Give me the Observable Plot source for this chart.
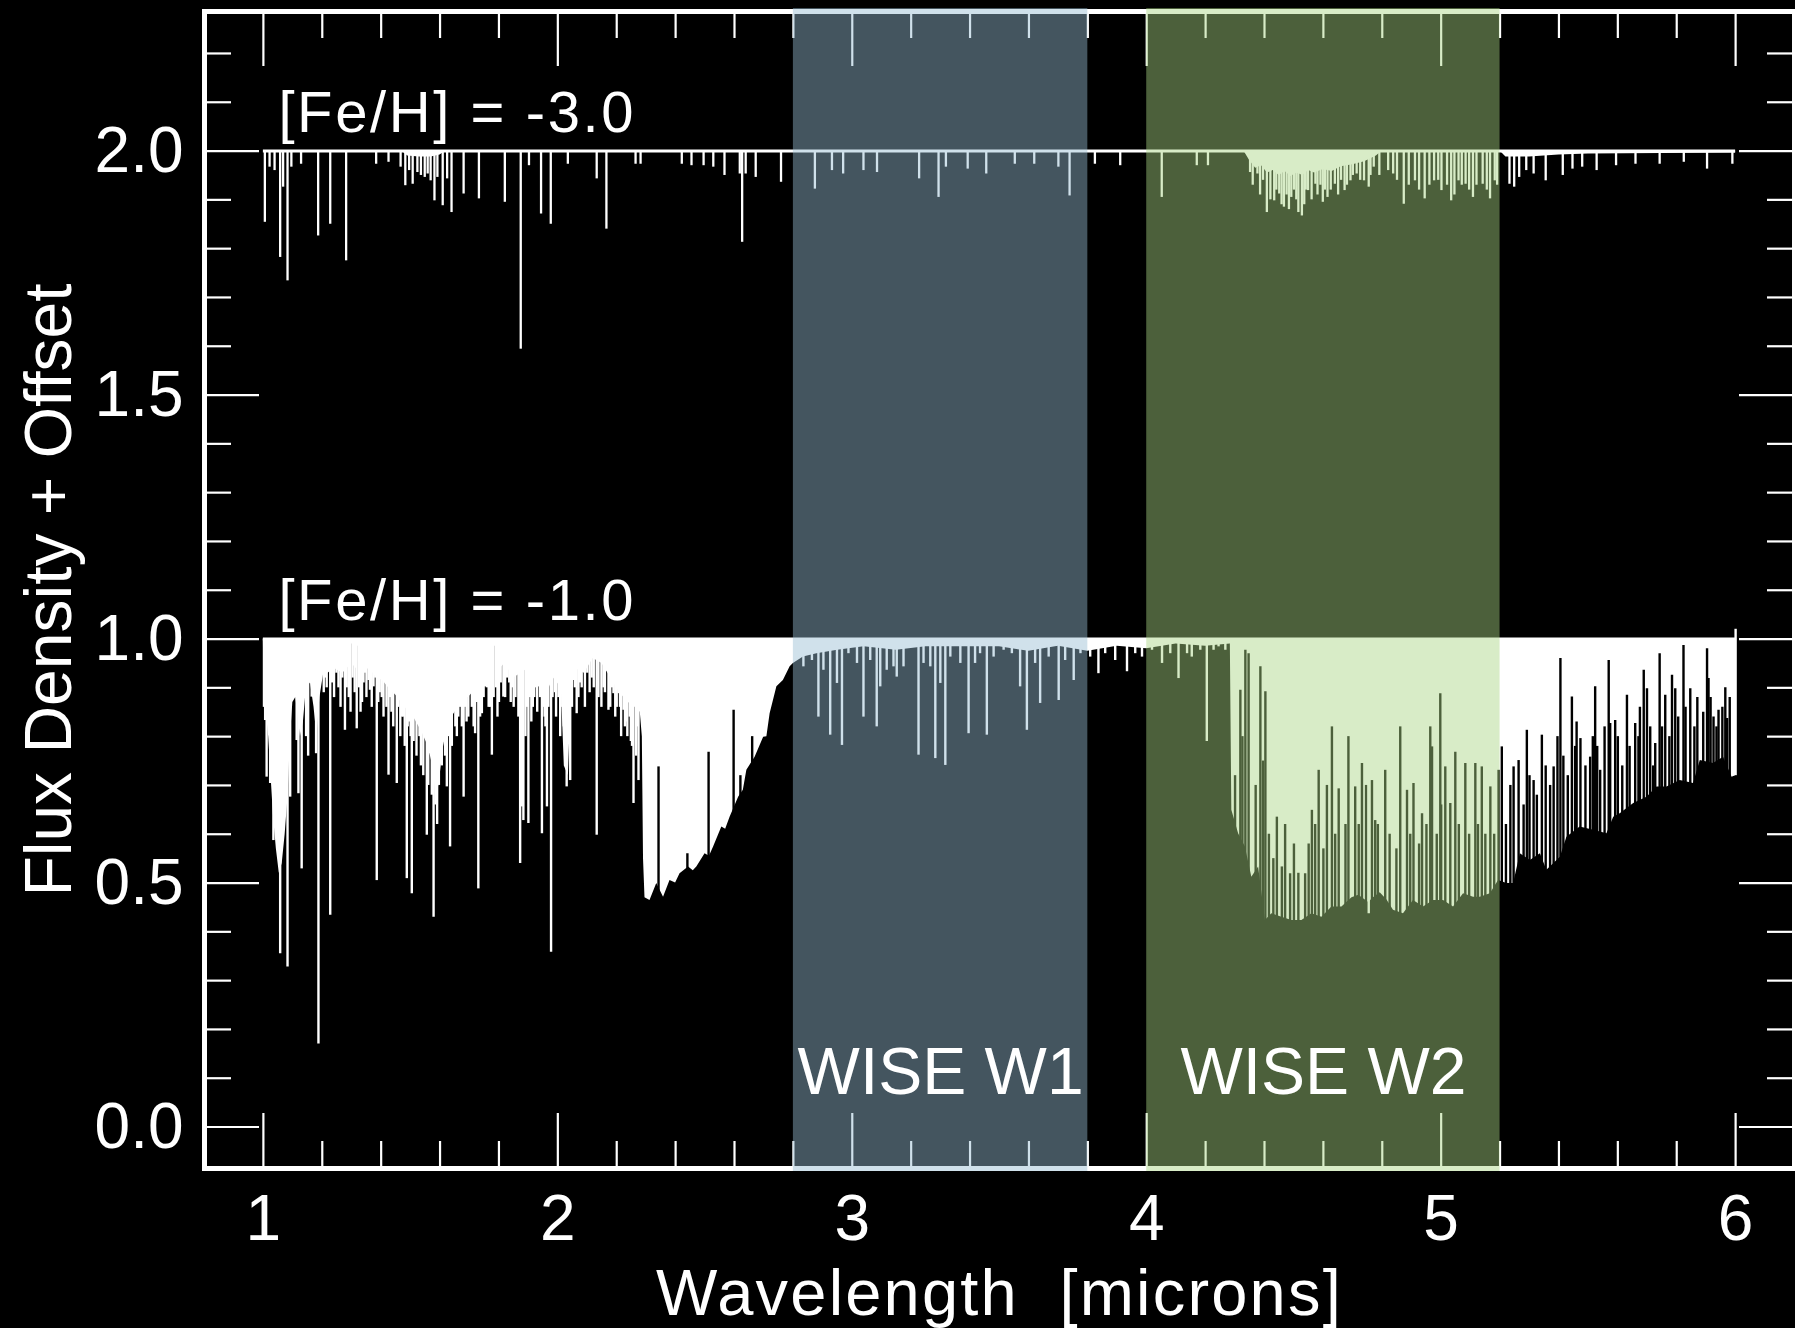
<!DOCTYPE html>
<html>
<head>
<meta charset="utf-8">
<script src="https://cdn.jsdelivr.net/npm/d3@7"></script>
<script src="https://cdn.jsdelivr.net/npm/@observablehq/plot@0.6"></script>
<style>
  html, body { margin: 0; padding: 0; background: #000; }
  #chart svg { display: block; }
</style>
</head>
<body>
<div id="chart"></div>
<script>
// ---------------- data ----------------
const xMajorTicks = [1, 2, 3, 4, 5, 6];
const xMinorTicks = [1.2, 1.4, 1.6, 1.8, 2.2, 2.4, 2.6, 2.8, 3.2, 3.4, 3.6, 3.8, 4.2, 4.4, 4.6, 4.8, 5.2, 5.4, 5.6, 5.8];
const yMajorTicks = [0.0, 0.5, 1.0, 1.5, 2.0];
const yMinorTicks = [0.1, 0.2, 0.3, 0.4, 0.6, 0.7, 0.8, 0.9, 1.1, 1.2, 1.3, 1.4, 1.6, 1.7, 1.8, 1.9, 2.1, 2.2];

const spectrumRange = [1.0, 6.0];
const spectrumEnd = [{w: 6.0, lo: 0.72, hi: 1.02}];
const metallicity = [
  {label: "[Fe/H] = -3.0", level: 2.0},
  {label: "[Fe/H] = -1.0", level: 1.0}
];
const bandNames = ["WISE W1", "WISE W2"];
const bandLo = [2.8, 4.0];
const bandHi = [3.8, 5.2];

// [Fe/H] = -1.0 : lower edge of the solid (blended) absorption, [wavelength, flux]
const envMinus1 = [
  [1.000,1.00],[1.002,0.90],[1.010,0.85],[1.018,0.80],[1.026,0.72],[1.034,0.64],[1.044,0.57],[1.054,0.52],
  [1.064,0.54],[1.074,0.60],[1.084,0.68],[1.092,0.80],[1.100,0.87],[1.110,0.88],[1.118,0.84],[1.126,0.80],
  [1.136,0.83],[1.146,0.90],[1.160,0.91],[1.172,0.86],[1.182,0.80],[1.192,0.88],[1.205,0.93],[1.220,0.93],
  [1.240,0.94],[1.270,0.93],[1.300,0.95],[1.330,0.93],[1.360,0.94],[1.385,0.92],[1.405,0.915],[1.425,0.90],
  [1.450,0.885],[1.481,0.86],[1.510,0.84],[1.538,0.81],[1.560,0.78],[1.575,0.74],[1.589,0.67],[1.600,0.72],
  [1.612,0.78],[1.628,0.83],[1.651,0.85],[1.674,0.88],[1.696,0.88],[1.719,0.895],[1.745,0.915],[1.764,0.94],
  [1.790,0.93],[1.820,0.95],[1.850,0.92],[1.875,0.93],[1.900,0.94],[1.930,0.91],[1.957,0.88],[1.985,0.92],
  [2.012,0.90],[2.022,0.74],[2.036,0.72],[2.046,0.90],[2.060,0.94],[2.090,0.93],[2.120,0.96],[2.150,0.95],
  [2.180,0.92],[2.210,0.89],[2.240,0.87],[2.262,0.86],[2.280,0.85],[2.287,0.80],[2.291,0.55],[2.296,0.47],
  [2.313,0.464],[2.336,0.499],[2.359,0.471],[2.381,0.505],[2.400,0.500],[2.415,0.519],[2.444,0.533],[2.460,0.525],
  [2.472,0.533],[2.500,0.560],[2.515,0.555],[2.529,0.574],[2.557,0.615],[2.570,0.610],[2.585,0.635],[2.614,0.676],
  [2.630,0.690],[2.642,0.731],[2.670,0.758],[2.699,0.799],[2.710,0.800],[2.721,0.847],[2.744,0.902],[2.766,0.915],
  [2.789,0.943],[2.800,0.950],[2.834,0.963],[2.880,0.970],[2.950,0.977],[3.040,0.984],
  [3.150,0.977],[3.250,0.984],[3.380,0.984],[3.500,0.984],[3.600,0.975],[3.700,0.985],[3.800,0.975],[3.900,0.985],
  [4.000,0.980],[4.100,0.990],[4.200,0.985],[4.284,0.990],[4.289,0.649],[4.312,0.601],[4.335,0.574],[4.357,0.512],
  [4.380,0.533],[4.403,0.423],[4.425,0.437],[4.459,0.430],[4.493,0.423],[4.527,0.423],[4.561,0.437],[4.595,0.430],
  [4.629,0.451],[4.663,0.451],[4.697,0.470],[4.720,0.475],[4.754,0.460],[4.770,0.470],[4.793,0.480],[4.816,0.465],
  [4.838,0.444],[4.872,0.437],[4.906,0.464],[4.940,0.451],[4.974,0.464],[5.008,0.464],[5.042,0.451],[5.076,0.478],
  [5.110,0.471],[5.133,0.471],[5.167,0.478],[5.195,0.505],[5.223,0.499],[5.246,0.499],[5.269,0.560],[5.303,0.546],
  [5.337,0.560],[5.359,0.526],[5.405,0.553],[5.427,0.594],[5.472,0.615],[5.518,0.608],[5.563,0.601],[5.586,0.635],
  [5.608,0.642],[5.654,0.663],[5.699,0.676],[5.733,0.697],[5.767,0.697],[5.812,0.710],[5.857,0.704],[5.880,0.751],
  [5.925,0.745],[5.959,0.758],[5.988,0.717],[6.000,0.720]
];

// [Fe/H] = -1.0 : individual absorption lines, [wavelength, minimum flux]
const linesMinus1 = [
  [1.002,0.86],[1.006,0.833],[1.011,0.717],[1.023,0.704],[1.034,0.587],[1.057,0.355],[1.068,0.697],[1.082,0.328],
  [1.091,0.676],[1.113,0.792],[1.119,0.683],[1.130,0.529],[1.145,0.80],[1.152,0.76],[1.164,0.881],[1.179,0.765],
  [1.187,0.170],[1.205,0.89],[1.210,0.92],[1.215,0.90],[1.227,0.434],[1.233,0.91],[1.240,0.88],[1.248,0.93],
  [1.255,0.90],[1.262,0.86],[1.268,0.92],[1.277,0.813],[1.283,0.90],[1.290,0.88],[1.296,0.85],[1.303,0.92],
  [1.310,0.89],[1.317,0.816],[1.325,0.90],[1.330,0.85],[1.335,0.87],[1.340,0.91],[1.345,0.93],[1.350,0.88],
  [1.357,0.915],[1.362,0.895],[1.368,0.86],[1.374,0.902],[1.380,0.92],[1.385,0.505],[1.390,0.87],[1.395,0.89],
  [1.402,0.88],[1.408,0.84],[1.413,0.929],[1.418,0.86],[1.425,0.721],[1.430,0.88],[1.435,0.85],[1.441,0.82],
  [1.447,0.922],[1.453,0.704],[1.458,0.86],[1.465,0.80],[1.470,0.84],[1.476,0.840],[1.480,0.78],[1.487,0.509],
  [1.490,0.82],[1.495,0.83],[1.500,0.80],[1.504,0.478],[1.510,0.79],[1.515,0.861],[1.520,0.76],[1.527,0.847],
  [1.530,0.80],[1.535,0.74],[1.543,0.72],[1.549,0.847],[1.555,0.598],[1.560,0.70],[1.566,0.765],[1.572,0.68],
  [1.578,0.430],[1.584,0.66],[1.590,0.62],[1.596,0.70],[1.600,0.786],[1.606,0.74],[1.612,0.854],[1.617,0.76],
  [1.623,0.697],[1.629,0.80],[1.634,0.574],[1.640,0.78],[1.646,0.868],[1.652,0.82],[1.657,0.80],[1.662,0.84],
  [1.668,0.86],[1.674,0.82],[1.680,0.676],[1.685,0.86],[1.690,0.83],[1.696,0.84],[1.702,0.895],[1.708,0.86],
  [1.714,0.82],[1.719,0.806],[1.725,0.87],[1.730,0.488],[1.736,0.84],[1.742,0.847],[1.748,0.88],[1.753,0.902],
  [1.759,0.90],[1.765,0.86],[1.770,0.86],[1.776,0.762],[1.782,0.88],[1.790,0.90],[1.795,0.84],[1.800,0.87],
  [1.806,0.91],[1.815,0.881],[1.821,0.88],[1.828,0.92],[1.835,0.91],[1.840,0.87],[1.845,0.90],[1.850,0.86],
  [1.856,0.88],[1.861,0.943],[1.866,0.84],[1.872,0.540],[1.878,0.656],[1.883,0.628],[1.890,0.80],[1.895,0.86],
  [1.900,0.622],[1.906,0.88],[1.910,0.83],[1.915,0.86],[1.920,0.88],[1.925,0.90],[1.930,0.85],[1.934,0.902],
  [1.940,0.88],[1.946,0.601],[1.950,0.86],[1.955,0.84],[1.958,0.82],[1.963,0.656],[1.968,0.86],[1.977,0.358],
  [1.982,0.88],[1.990,0.89],[1.994,0.84],[1.997,0.936],[2.002,0.88],[2.008,0.80],[2.015,0.86],[2.020,0.82],
  [2.030,0.697],[2.042,0.710],[2.048,0.86],[2.053,0.915],[2.058,0.90],[2.064,0.847],[2.070,0.88],[2.075,0.91],
  [2.081,0.90],[2.092,0.86],[2.100,0.93],[2.108,0.89],[2.115,0.92],[2.122,0.90],[2.132,0.598],[2.138,0.88],
  [2.148,0.86],[2.155,0.90],[2.160,0.89],[2.165,0.935],[2.172,0.854],[2.178,0.86],[2.184,0.90],[2.189,0.888],
  [2.195,0.84],[2.200,0.86],[2.206,0.888],[2.211,0.86],[2.215,0.80],[2.223,0.854],[2.228,0.82],[2.232,0.83],
  [2.236,0.80],[2.240,0.874],[2.244,0.84],[2.248,0.79],[2.252,0.78],[2.257,0.663],[2.266,0.76],[2.270,0.82],
  [2.274,0.710],
  [2.834,0.943],[2.863,0.956],[2.885,0.840],[2.902,0.936],[2.925,0.803],[2.948,0.909],[2.965,0.782],[2.987,0.970],
  [3.016,0.950],[3.038,0.840],[3.061,0.956],[3.083,0.820],[3.095,0.902],[3.117,0.936],[3.140,0.943],[3.151,0.922],
  [3.174,0.943],[3.225,0.762],[3.242,0.950],[3.265,0.943],[3.282,0.755],[3.299,0.909],[3.316,0.741],[3.333,0.963],
  [3.367,0.950],[3.395,0.806],[3.417,0.950],[3.434,0.970],[3.457,0.803],[3.480,0.963],[3.514,0.977],
  [3.542,0.970],[3.570,0.902],[3.593,0.813],[3.621,0.950],[3.638,0.868],[3.667,0.963],[3.701,0.874],[3.723,0.956],
  [3.752,0.915],[3.775,0.970],[3.808,0.963],[3.836,0.929],[3.859,0.970],[3.893,0.956],[3.933,0.933],[3.961,0.970],
  [3.984,0.963],[4.018,0.977],[4.052,0.950],[4.080,0.970],[4.108,0.919],[4.137,0.970],[4.153,0.963],[4.182,0.977],
  [4.204,0.790],[4.227,0.977],[4.244,0.984],[4.267,0.977],[4.754,0.437]
];

// [Fe/H] = -1.0 : narrow windows where the flux stays high, [wavelength, lowest level reached]
const windowsMinus1 = [
  [1.300,0.99],[1.322,0.985],[1.787,0.985],[1.844,0.985],
  [2.342,0.738],[2.440,0.560],[2.512,0.768],[2.597,0.854],[2.620,0.720],[2.660,0.800],
  [4.300,0.720],[4.318,0.895],[4.325,0.800],[4.335,0.977],[4.346,0.970],[4.370,0.700],[4.386,0.943],[4.395,0.750],
  [4.403,0.892],[4.415,0.600],[4.430,0.550],[4.442,0.635],[4.459,0.533],[4.470,0.620],[4.487,0.519],[4.500,0.580],
  [4.515,0.520],[4.538,0.519],[4.550,0.580],[4.561,0.649],[4.572,0.620],[4.584,0.731],[4.600,0.570],[4.612,0.700],
  [4.629,0.820],[4.640,0.600],[4.652,0.693],[4.675,0.620],[4.685,0.800],[4.708,0.697],[4.720,0.620],[4.731,0.745],
  [4.745,0.700],[4.765,0.710],[4.776,0.628],[4.785,0.620],
  [4.810,0.731],[4.825,0.600],[4.848,0.570],[4.861,0.820],[4.884,0.690],[4.895,0.600],[4.906,0.704],[4.925,0.580],
  [4.935,0.642],[4.950,0.620],[4.963,0.820],[4.969,0.779],[4.985,0.600],[4.997,0.888],[5.000,0.660],[5.014,0.738],
  [5.031,0.663],[5.048,0.768],[5.060,0.620],[5.082,0.745],[5.095,0.600],[5.116,0.745],[5.125,0.620],[5.138,0.738],
  [5.150,0.600],[5.167,0.697],[5.180,0.600],[5.195,0.731],
  [5.206,0.779],[5.220,0.620],[5.235,0.700],[5.246,0.738],[5.263,0.751],[5.280,0.660],[5.291,0.813],[5.300,0.720],
  [5.314,0.710],[5.325,0.680],[5.342,0.803],[5.355,0.740],[5.370,0.700],[5.382,0.738],[5.395,0.800],[5.405,0.960],
  [5.415,0.760],[5.430,0.720],[5.444,0.881],[5.455,0.780],[5.460,0.830],[5.473,0.796],[5.490,0.740],[5.506,0.758],
  [5.515,0.800],[5.523,0.902],[5.530,0.780],[5.540,0.731],[5.555,0.820],[5.569,0.956],[5.574,0.827],[5.591,0.833],
  [5.600,0.800],[5.615,0.740],[5.631,0.885],[5.640,0.780],[5.659,0.827],[5.670,0.800],[5.675,0.860],[5.688,0.936],
  [5.699,0.898],[5.710,0.820],[5.720,0.740],[5.727,0.786],[5.742,0.970],[5.750,0.820],[5.761,0.885],[5.775,0.800],
  [5.784,0.926],[5.795,0.898],[5.805,0.840],[5.823,0.987],[5.830,0.860],[5.846,0.898],[5.860,0.820],[5.870,0.880],
  [5.890,0.850],[5.903,0.980],[5.908,0.919],[5.915,0.880],[5.925,0.840],[5.935,0.820],[5.942,0.854],[5.955,0.860],
  [5.965,0.900],[5.971,0.837],[5.980,0.880]
];

// [Fe/H] = -3.0 : lower edge of blended absorption, [wavelength, flux]
const envMinus3 = [
  [1.00,2.0],[1.47,2.0],[1.49,1.99],[1.53,1.988],[1.57,1.988],[1.60,1.992],[1.62,2.0],[4.33,2.0],
  [4.35,1.98],[4.37,1.965],[4.39,1.97],[4.41,1.955],[4.43,1.96],[4.45,1.95],[4.47,1.958],[4.49,1.948],
  [4.51,1.955],[4.53,1.95],[4.55,1.96],[4.57,1.955],[4.60,1.962],[4.63,1.958],[4.66,1.968],[4.70,1.972],
  [4.74,1.978],[4.78,1.99],[4.80,2.0],[5.20,2.0],[5.22,1.988],[5.30,1.988],[5.40,1.992],[5.50,1.994],[6.00,1.996]
];

// [Fe/H] = -3.0 : individual absorption lines, [wavelength, minimum flux]
const linesMinus3 = [
  [1.005,1.854],[1.021,1.967],[1.038,1.960],[1.057,1.782],[1.067,1.926],[1.082,1.734],[1.095,1.967],[1.128,1.973],
  [1.186,1.826],[1.227,1.850],[1.281,1.775],[1.383,1.973],[1.425,1.977],[1.466,1.967],[1.482,1.929],[1.495,1.960],
  [1.507,1.932],[1.523,1.956],[1.535,1.950],[1.548,1.946],[1.558,1.953],[1.568,1.939],[1.581,1.898],[1.591,1.946],
  [1.609,1.888],[1.624,1.943],[1.639,1.874],[1.680,1.912],[1.732,1.902],[1.820,1.895],[1.874,1.594],[1.902,1.970],
  [1.943,1.871],[1.976,1.850],[2.034,1.973],[2.132,1.943],[2.165,1.840],[2.264,1.973],[2.281,1.973],[2.421,1.973],
  [2.454,1.970],[2.495,1.970],[2.528,1.967],[2.566,1.950],[2.618,1.953],[2.626,1.813],[2.638,1.953],[2.672,1.946],
  [2.758,1.936],[2.873,1.922],[2.931,1.960],[2.969,1.953],[3.038,1.960],[3.084,1.956],[3.227,1.943],[3.293,1.905],
  [3.318,1.967],[3.392,1.963],[3.455,1.953],[3.552,1.973],[3.618,1.973],[3.700,1.967],[3.738,1.908],[3.824,1.973],
  [3.910,1.970],[4.051,1.905],[4.170,1.970],[4.208,1.970],[4.351,1.956],[4.360,1.930],[4.376,1.953],[4.385,1.910],
  [4.395,1.940],[4.408,1.874],[4.420,1.900],[4.433,1.898],[4.440,1.920],[4.450,1.912],[4.458,1.890],[4.466,1.885],
  [4.475,1.910],[4.483,1.880],[4.491,1.905],[4.500,1.920],[4.508,1.900],[4.515,1.874],[4.527,1.867],[4.535,1.890],
  [4.540,1.920],[4.548,1.919],[4.560,1.900],[4.573,1.932],[4.580,1.910],[4.590,1.930],[4.598,1.895],[4.605,1.920],
  [4.614,1.905],[4.625,1.920],[4.639,1.932],[4.650,1.910],[4.660,1.940],[4.672,1.919],[4.680,1.930],[4.692,1.939],
  [4.700,1.950],[4.713,1.953],[4.725,1.940],[4.738,1.939],[4.754,1.926],[4.760,1.950],[4.771,1.967],[4.790,1.950],
  [4.820,1.960],[4.837,1.953],[4.850,1.940],[4.873,1.891],[4.890,1.930],[4.911,1.939],[4.925,1.920],[4.944,1.902],
  [4.960,1.930],[4.976,1.939],[4.990,1.940],[5.001,1.919],[5.020,1.930],[5.034,1.898],[5.045,1.910],[5.059,1.939],
  [5.070,1.930],[5.083,1.932],[5.095,1.920],[5.108,1.905],[5.120,1.930],[5.141,1.932],[5.155,1.920],[5.166,1.902],
  [5.182,1.939],[5.190,1.930],[5.232,1.932],[5.248,1.926],[5.265,1.946],[5.289,1.960],[5.314,1.953],[5.355,1.939],
  [5.413,1.950],[5.446,1.963],[5.479,1.967],[5.528,1.960],[5.594,1.970],[5.660,1.973],[5.742,1.973],[5.824,1.977],
  [5.903,1.963],[5.989,1.973]
];

// ---------------- layout / style ----------------
const W = 1795, H = 1328;
const M = {left: 204, right: 1, top: 11, bottom: 160};
const xDomain = [0.8, 6.2];
const yDomain = [-0.085, 2.286];
const pxPerX = (W - M.left - M.right) / (xDomain[1] - xDomain[0]);
const pxPerY = (H - M.top - M.bottom) / (yDomain[1] - yDomain[0]);
const MAJ = 55, MIN = 27;
const FONT = "'Liberation Sans', Arial, Helvetica, sans-serif";
const W1FILL = "rgb(150,188,210)", W2FILL = "rgb(168,212,130)", BANDOP = 0.45;
const windowFloor = 0.3;
const X_TITLE = "Wavelength\u00a0\u00a0[microns]";

const pts = (pairs) => pairs.map(([w, f]) => ({w, f}));
const bands = bandNames.map((name, i) => ({name, lo: bandLo[i], hi: bandHi[i]}));
const tickStyle = {stroke: "white", strokeWidth: 2.2};

const chart = Plot.plot({
  width: W, height: H,
  marginLeft: M.left, marginRight: M.right, marginTop: M.top, marginBottom: M.bottom,
  x: {domain: xDomain},
  y: {domain: yDomain},
  style: {background: "black", color: "white", fontFamily: FONT, fontSize: "64px"},
  marks: [
    // spectrum [Fe/H] = -1.0
    Plot.areaY(pts(envMinus1), {x: "w", y1: 1.0, y2: "f", fill: "white"}),
    Plot.ruleX(pts(windowsMinus1), {x: "w", y1: "f", y2: windowFloor, stroke: "black", strokeWidth: 2.4}),
    Plot.ruleX(pts(linesMinus1), {x: "w", y1: 1.0, y2: "f", stroke: "white", strokeWidth: 2.4}),
    Plot.ruleX(spectrumEnd, {x: "w", y1: "lo", y2: "hi", stroke: "white", strokeWidth: 2.4}),
    Plot.ruleY([1.0], {x1: spectrumRange[0], x2: spectrumRange[1], stroke: "white", strokeWidth: 3}),
    // spectrum [Fe/H] = -3.0
    Plot.areaY(pts(envMinus3), {x: "w", y1: 2.0, y2: "f", fill: "white"}),
    Plot.ruleX(pts(linesMinus3), {x: "w", y1: 2.0, y2: "f", stroke: "white", strokeWidth: 2.3}),
    Plot.ruleY([2.0], {x1: spectrumRange[0], x2: spectrumRange[1], stroke: "white", strokeWidth: 3}),
    // inward ticks
    Plot.ruleX(xMajorTicks, {y1: yDomain[0], y2: yDomain[0] + MAJ / pxPerY, ...tickStyle}),
    Plot.ruleX(xMajorTicks, {y1: yDomain[1], y2: yDomain[1] - MAJ / pxPerY, ...tickStyle}),
    Plot.ruleX(xMinorTicks, {y1: yDomain[0], y2: yDomain[0] + MIN / pxPerY, ...tickStyle}),
    Plot.ruleX(xMinorTicks, {y1: yDomain[1], y2: yDomain[1] - MIN / pxPerY, ...tickStyle}),
    Plot.ruleY(yMajorTicks, {x1: xDomain[0], x2: xDomain[0] + MAJ / pxPerX, ...tickStyle}),
    Plot.ruleY(yMajorTicks, {x1: xDomain[1], x2: xDomain[1] - MAJ / pxPerX, ...tickStyle}),
    Plot.ruleY(yMinorTicks, {x1: xDomain[0], x2: xDomain[0] + MIN / pxPerX, ...tickStyle}),
    Plot.ruleY(yMinorTicks, {x1: xDomain[1], x2: xDomain[1] - MIN / pxPerX, ...tickStyle}),
    Plot.frame({stroke: "white", strokeWidth: 5}),
    // WISE bands (translucent overlay)
    Plot.rect([bands[0]], {x1: "lo", x2: "hi", y1: yDomain[0], y2: yDomain[1], fill: W1FILL, fillOpacity: BANDOP, insetTop: -3, insetBottom: -3}),
    Plot.rect([bands[1]], {x1: "lo", x2: "hi", y1: yDomain[0], y2: yDomain[1], fill: W2FILL, fillOpacity: BANDOP, insetTop: -3, insetBottom: -3}),
    Plot.text(bands, {x: d => (d.lo + d.hi) / 2, frameAnchor: "bottom", dy: -75, text: "name", lineAnchor: "bottom", fill: "white", fontSize: 66}),
    // metallicity labels
    Plot.text(metallicity, {x: () => spectrumRange[0], y: "level", dx: 15, dy: -19, text: "label", textAnchor: "start", lineAnchor: "bottom", fill: "white", fontSize: 58}),
    // axes
    Plot.axisX({ticks: xMajorTicks, tickSize: 0, tickPadding: 26, tickFormat: d => String(d), fontSize: 64, label: null}),
    Plot.axisY({ticks: yMajorTicks, tickSize: 0, tickPadding: 21, tickFormat: d3.format(".1f"), fontSize: 64, label: null}),
    Plot.text([X_TITLE], {frameAnchor: "bottom", dy: 146, lineAnchor: "bottom", fill: "white", fontSize: 65}),
    Plot.text(["Flux Density + Offset"], {frameAnchor: "left", dx: -155, rotate: -90, textAnchor: "middle", lineAnchor: "middle", fill: "white", fontSize: 66})
  ]
});
// widen letter spacing of some labels to match the original typesetting
const svgTexts = d3.select(chart).selectAll("text");
svgTexts.filter(function () { return this.textContent.startsWith("[Fe/H]"); }).attr("letter-spacing", "2.6px");
svgTexts.filter(function () { return this.textContent === X_TITLE; }).attr("letter-spacing", "2.2px");
document.getElementById("chart").appendChild(chart);
</script>
</body>
</html>
